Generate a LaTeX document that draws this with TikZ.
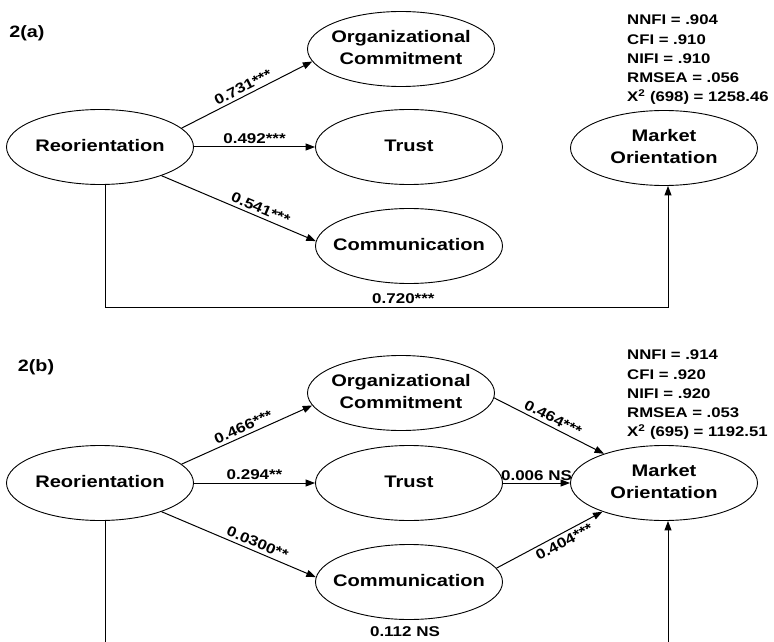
\documentclass[tikz,border=0pt]{standalone}
\usepackage{fontspec}
\setmainfont{Liberation Sans}[FakeStretch=1.2]
\usetikzlibrary{shapes.geometric,arrows.meta}
\newcommand\lattext[1]{\makebox[0pt]{\begin{tabular}{@{}c@{}}#1\end{tabular}}}
\begin{document}
\begin{tikzpicture}[x=1bp,y=-1bp,
  lat/.style={ellipse,draw,line width=0.9bp,minimum width=187bp,minimum height=75bp,inner sep=0pt,font=\fontsize{16.8}{22}\selectfont\bfseries},
  arr/.style={line width=1bp,-{Triangle[length=9.5bp,width=7bp]}},
  plain/.style={line width=1bp},
  lbl/.style={font=\fontsize{14.2}{16}\selectfont\bfseries,inner sep=3.2bp},
  fitstat/.style={anchor=north west,align=left,inner sep=0pt,font=\fontsize{14}{19.3}\selectfont\bfseries},
  panel/.style={font=\fontsize{16.5}{20}\selectfont\bfseries,inner sep=0pt}]
\useasboundingbox (0,0) rectangle (774,642);

% ---------- panel 2(a) ----------
\node[panel] (pa) at (27,33) {2(a)};
\node[lat] (reoA) at (100,147) {\lattext{Reorientation}};
\node[lat] (ocA) at (401,49) {\lattext{Organizational\\Commitment}};
\node[lat] (trA) at (409,147) {\lattext{Trust}};
\node[lat] (coA) at (409,246) {\lattext{Communication}};
\node[lat] (mkA) at (664,148) {\lattext{Market\\Orientation}};
\node[fitstat] (fitA) at (627,15) {NNFI = .904\\CFI = .910\\NIFI = .910\\RMSEA = .056\\X\textsuperscript{2} (698) = 1258.46};

\draw[arr] (reoA.13) -- node[lbl,above,sloped]{0.731***} (ocA.188);
\draw[arr] (reoA.east) -- node[lbl,above]{0.492***} (trA.west);
\draw[arr] (reoA.-25) -- node[lbl,above,sloped,pos=0.62]{0.541***} (coA.177);
\coordinate (cla) at (105,307);
\coordinate (cra) at (668,307);
\draw[arr] (reoA.south -| cla) -- (cla) -- node[lbl,above,pos=0.53]{0.720***} (cra) -- (cra |- mkA.south);

% ---------- panel 2(b) ----------
\node[panel] (pb) at (36,367) {2(b)};
\node[lat] (reoB) at (100,483) {\lattext{Reorientation}};
\node[lat] (ocB) at (401,393) {\lattext{Organizational\\Commitment}};
\node[lat] (trB) at (409,483) {\lattext{Trust}};
\node[lat] (coB) at (409,582) {\lattext{Communication}};
\node[lat] (mkB) at (664,483) {\lattext{Market\\Orientation}};
\node[fitstat] (fitB) at (627,350) {NNFI = .914\\CFI = .920\\NIFI = .920\\RMSEA = .053\\X\textsuperscript{2} (695) = 1192.51};

\draw[arr] (reoB.13) -- node[lbl,above,sloped]{0.466***} (ocB.188);
\draw[arr] (reoB.east) -- node[lbl,above]{0.294**} (trB.west);
\draw[arr] (reoB.-25) -- node[lbl,above,sloped,pos=0.6]{0.0300**} (coB.177);
\draw[arr] (ocB.-3) -- node[lbl,above,sloped]{0.464***} (mkB.154);
\draw[arr] (trB.east) -- node[lbl,above,inner sep=2bp]{0.006 NS} (mkB.west);
\draw[arr] (coB.9) -- node[lbl,below,sloped,pos=0.6]{0.404***} (mkB.205);
\coordinate (clb) at (105,645);
\coordinate (crb) at (668,645);
\draw[plain] (reoB.south -| clb) -- (clb);
\draw[arr] (crb) -- (crb |- mkB.south);
\node[lbl] (nsb) at (405,632) {0.112 NS};
\end{tikzpicture}
\end{document}
